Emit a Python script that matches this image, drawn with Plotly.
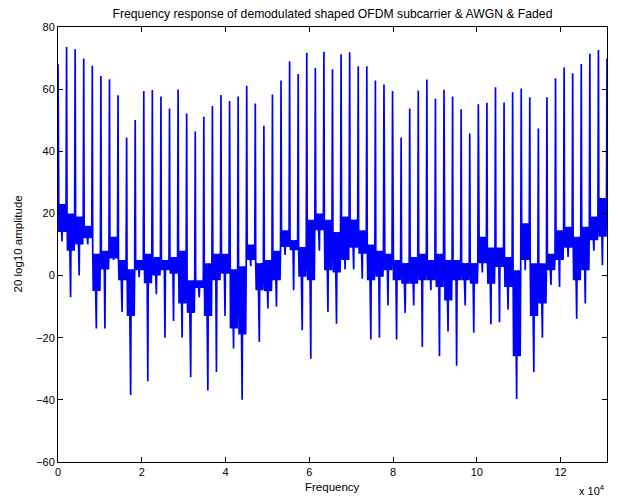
import plotly.graph_objects as go

# ---- data ----
N_FFT = 131072          # frequency-axis extent (2^17)
PEAK_SPACING = 2048     # subcarrier spacing in bins

# peak level (dB) at each subcarrier k = 0..64
peak_db = [68, 73.6, 72.8, 69.9, 67.5, 64.2, 63.2, 58.0, 44.4, 50.1, 59.4, 59.7, 57.6,
           53.8, 59.9, 52.2, 46.4, 51.1, 54.6, 58.1, 56.2, 57.6, 61.1, 55.4, 48.2, 58.3,
           62.8, 69.0, 64.9, 71.7, 66.8, 72.0, 66.4, 71.2, 71.9, 67.4, 67.4, 62.8, 61.5,
           59.4, 44.4, 53.8, 59.6, 63.1, 56.9, 59.8, 57.6, 53.5, 45.7, 55.1, 55.6, 60.6,
           55.7, 59.0, 60.2, 57.4, 47.3, 57.4, 63.5, 67.0, 65.1, 68.1, 71.4, 72.6, 69.9]

# noise floor between peaks k and k+1: top of band, bottom of band, deepest notch (dB)
band_top = [23, 20, 19, 16, 7, 8, 12.5, 5, 2, 5, 7, 6, 5, 6, 8, -1.5, -1.5, 4, 7, 7, 2, 3,
            10, 4, 5, 8, 14.6, 11.4, 9.2, 18, 20, 18, 14, 19, 18, 14.6, 10, 8, 7, 5, 4, 6,
            7, 5, 7, 5, 5, 4, 4, 12.5, 9, 9, 6, 1.7, 16.8, 4, 4, 7, 14.6, 15.7, 12.5, 15.7,
            19, 25]
band_low = [14, 8, 10, 12, -5, 2, 5.5, -1.5, -13, 1.7, -2.5, 0, 1.7, 0.6, -9, -12, -4, -13,
            -1.5, 0.6, -17, -19, 5, -4.7, -5, -1.5, 9.2, 8.2, -0.4, -1.5, 14.6, 1.7, 1, 5,
            9, 7, -1.5, -0.4, 1.7, -1.5, -2.6, -2.6, -1.5, -1.5, -3.7, -8, -1.5, -1.5, -2.6,
            4, -2.6, 2.8, -3.7, -26, 5, -13, -9, 1.7, 5, 9, -1.5, 1.7, 11.4, 12.5]
notch = [11, -7, 0, 10, -17, -17, 5, -11.7, -38.4, -0.5, -34, -6, -20, -14.6, -20, -32.7,
         -7, -37, -31, -13, -23.5, -40, 3, -21.4, -10.6, -10, 6.6, -4.7, -17.6, -26.8, 8,
         -11.7, -15.5, 2, 2, -1, -20.6, -20, -9.6, -20.6, -12, -9.6, -23, -4.7, -26, -18,
         -29, -9.6, -18.4, 1, -15.7, -15, -11, -39.7, 1.7, -31, -20, -3, -3.7, 6, -13.9,
         -9, 8, 3.3]

x_tick_vals = [0, 20000, 40000, 60000, 80000, 100000, 120000]
x_tick_text = ["0", "2", "4", "6", "8", "10", "12"]
y_tick_vals = [-60, -40, -20, 0, 20, 40, 60, 80]

# ---- assemble the trace: peak, then the read floor levels inside each gap ----
gap_pattern = [(0.05, "top"), (0.11, "low"), (0.18, "top"), (0.25, "low"), (0.32, "top"),
               (0.40, "low"), (0.47, "notch"), (0.53, "top"), (0.60, "low"), (0.67, "top"),
               (0.74, "low"), (0.81, "top"), (0.88, "low"), (0.94, "top")]
xs, ys = [], []
for k in range(len(peak_db)):
    xs.append(k * PEAK_SPACING)
    ys.append(peak_db[k])
    if k < len(band_top):
        lv = {"top": band_top[k], "low": band_low[k], "notch": notch[k]}
        for frac, key in gap_pattern:
            xs.append((k + frac) * PEAK_SPACING)
            ys.append(lv[key])

FONT = "Liberation Sans, Arial, Helvetica, sans-serif"
OFF = 8                       # page body margin the browser adds around the figure
W, H = 618 - OFF, 500 - OFF
L, R, T, B = 58 - OFF, 11, 27 - OFF, 38
PW, PH = W - L - R, H - T - B

fig = go.Figure(go.Scatter(x=xs, y=ys, mode="lines",
                           line=dict(color="#0000FF", width=1.7),
                           hoverinfo="skip"))

axis_common = dict(showline=True, linecolor="black", linewidth=1, mirror="ticks",
                   ticks="inside", ticklen=5, tickcolor="black", tickwidth=1,
                   showgrid=False, zeroline=False, automargin=False,
                   tickfont=dict(family=FONT, size=11, color="black"))

fig.update_layout(
    width=W, height=H,
    paper_bgcolor="white", plot_bgcolor="white",
    margin=dict(l=L, r=R, t=T, b=B, autoexpand=False),
    showlegend=False,
    title=dict(text="Frequency response of demodulated shaped OFDM subcarrier & AWGN & Faded",
               x=(L + PW / 2) / W, xanchor="center", y=1 - 1.5 / H, yanchor="top",
               font=dict(family=FONT, size=12.2, color="black")),
    xaxis=dict(range=[0, N_FFT], tickvals=x_tick_vals, ticktext=x_tick_text, **axis_common),
    yaxis=dict(range=[-60, 80], tickvals=y_tick_vals, **axis_common),
    annotations=[
        dict(text="Frequency", xref="paper", yref="paper", x=0.5, y=-(487 - 462) / PH,
             xanchor="center", yanchor="middle", showarrow=False,
             font=dict(family=FONT, size=11.5, color="black")),
        dict(text="20 log10 amplitude", xref="paper", yref="paper", x=-(58 - 17) / PW, y=0.5,
             xanchor="center", yanchor="middle", textangle=-90, showarrow=False,
             font=dict(family=FONT, size=11.5, color="black")),
        dict(text="x 10<sup>4</sup>", xref="paper", yref="paper",
             x=1.0, y=-(490 - 462) / PH, xanchor="right", yanchor="middle",
             showarrow=False, font=dict(family=FONT, size=11, color="black")),
    ],
)

fig.write_html("out.html")
